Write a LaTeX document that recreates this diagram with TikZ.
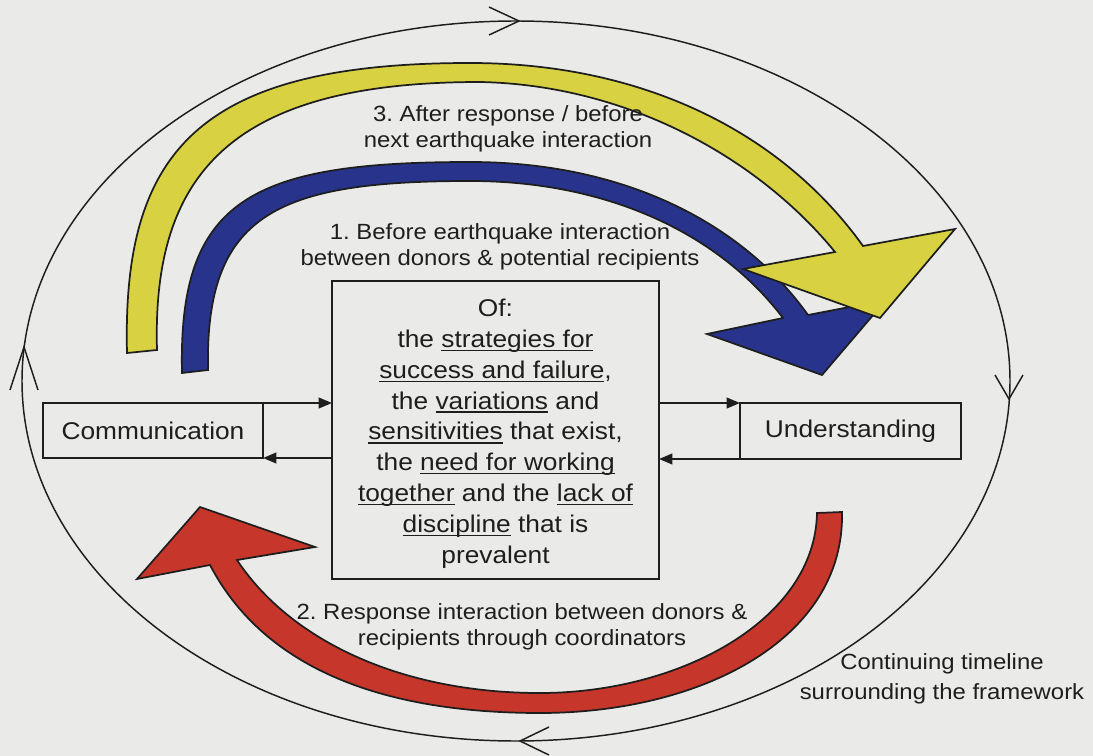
\documentclass[tikz,border=0pt]{standalone}
\usepackage{fontspec}
\setmainfont{Liberation Sans}[FakeStretch=1.087]
\usetikzlibrary{arrows.meta}
\frenchspacing
\definecolor{bg}{RGB}{234,234,232}
\definecolor{ink}{RGB}{30,30,30}
\definecolor{yband}{RGB}{216,210,66}
\definecolor{bband}{RGB}{40,52,140}
\definecolor{rband}{RGB}{198,54,42}
\newsavebox\ulxbox
\newcommand\ulx[1]{\sbox\ulxbox{#1}\rlap{\rule[-2.9pt]{\wd\ulxbox}{1.1pt}}\usebox\ulxbox}
\tikzset{
  bigfont/.style={font=\fontsize{18.15pt}{23.1pt}\selectfont},
  smallfont/.style={font=\fontsize{16.5pt}{19.5pt}\selectfont},
  boxnode/.style={draw=ink, line width=1.5pt, outer sep=0pt, inner sep=0pt, bigfont, text=ink},
  txt/.style={inner sep=0pt, outer sep=0pt, align=center, text=ink, anchor=base},
  conn/.style={draw=ink, line width=1.5pt, -{Triangle[length=10pt,width=8pt]}},
  timeline/.style={draw=ink, line width=1.1pt},
  band/.style={draw=ink, line width=1.3pt, line join=miter}
}
\begin{document}
\begin{tikzpicture}[x=0.75pt,y=-0.75pt]
\useasboundingbox (0,0) rectangle (1093,756);
\fill[bg] (0,0) rectangle (1093,756);

% continuing timeline
\draw[timeline] (516,381) ellipse [x radius=370.5pt, y radius=270pt];
\draw[timeline] (489,7) -- (519,21) -- (489,35);
\draw[timeline] (995,375) -- (1009,399) -- (1023,375);
\draw[timeline] (549,727) -- (520,741) -- (549,755);
\draw[timeline] (10,390) -- (24,347) -- (38,390);

% 1. blue arrow
\filldraw[band, fill=bband] (182,373) .. controls (178,200) and (250,162) .. (470,162)
  .. controls (620,162) and (740,220) .. (808,315) -- (886,300) -- (822,375) -- (707,334) -- (783,318)
  .. controls (720,235) and (610,181) .. (470,181)
  .. controls (275,181) and (205,215) .. (208,370) -- cycle;

% 3. yellow arrow
\filldraw[band, fill=yband] (127,353) .. controls (122,150) and (200,63) .. (470,63)
  .. controls (640,63) and (780,130) .. (863,246) -- (955,229) -- (880,318) -- (743,269) -- (835,252)
  .. controls (760,160) and (630,85) .. (480,82)
  .. controls (230,82) and (152,175) .. (157,350) -- cycle;

% 2. red arrow
\filldraw[band, fill=rband] (842,512) .. controls (845,640) and (700,713) .. (540,713)
  .. controls (385,713) and (265,670) .. (210,565) -- (137,579) -- (200,507) -- (315,547) -- (237,560)
  .. controls (290,640) and (400,693) .. (540,693)
  .. controls (680,693) and (815,620) .. (817,513) -- cycle;

% boxes
\node[boxnode, minimum width=165pt, minimum height=41.25pt] (comm) at (153,430.5) {Communication};
\node[boxnode, minimum width=165.75pt, minimum height=42pt] (und) at (850.5,431) {Understanding};
\node[boxnode, minimum width=245.25pt, minimum height=223.5pt] (center) at (495.5,430) {};
\node[txt, bigfont] (centertext) at (495.5,563) {Of:\\
the \ulx{strategies for}\\
\ulx{success and failure},\\
the \ulx{variations} and\\
\ulx{sensitivities} that exist,\\
the \ulx{need for working}\\
\ulx{together} and the \ulx{lack of}\\
\ulx{discipline} that is\\
prevalent};

% connectors
\draw[conn] (comm.north east) -- (comm.north east -| center.west);
\draw[conn] (comm.south east -| center.west) -- (comm.south east);
\draw[conn] (und.north west -| center.east) -- (und.north west);
\draw[conn] (und.south west) -- (und.south west -| center.east);

% labels
\node[txt, smallfont] (lab3) at (508,148) {3. After response / before\\next earthquake interaction};
\node[txt, smallfont] (lab1) at (500,266) {1. Before earthquake interaction\\between donors \& potential recipients};
\node[txt, smallfont] (lab2) at (522,645) {2. Response interaction between donors \&\\recipients through coordinators};
\node[txt, font=\fontsize{16.5pt}{22.5pt}\selectfont] (labT) at (942,699) {Continuing timeline\\surrounding the framework};
\end{tikzpicture}
\end{document}
